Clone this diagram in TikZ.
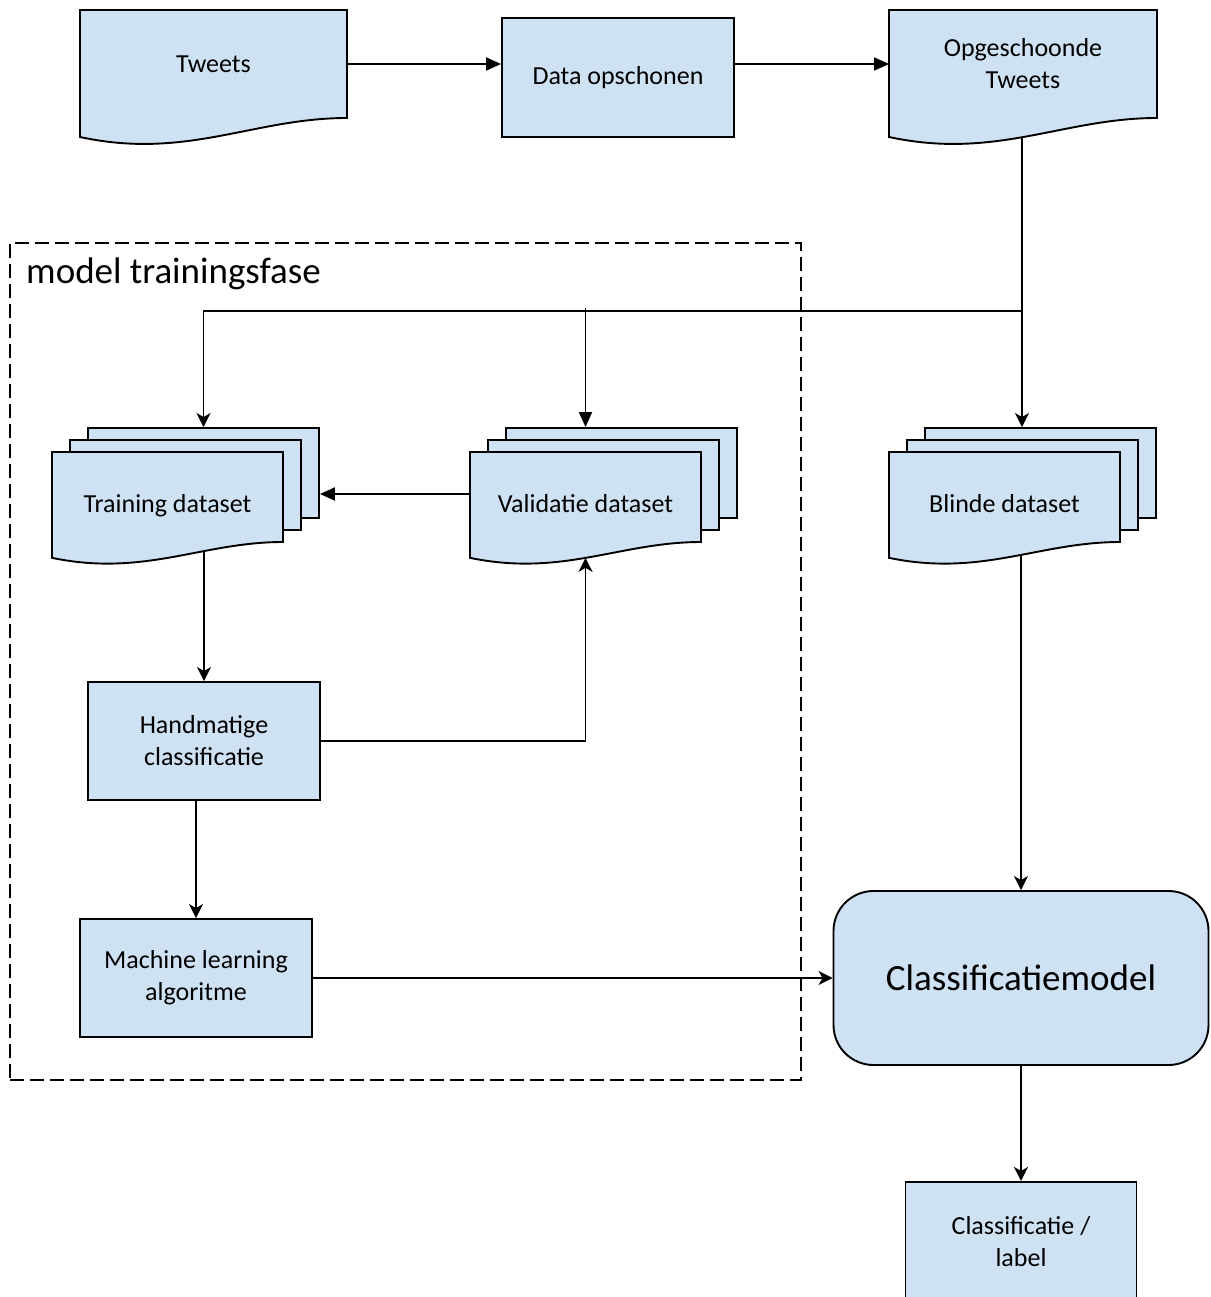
\documentclass[tikz,border=0pt]{standalone}
\usepackage{fontspec}
\setmainfont{Carlito}
\usetikzlibrary{arrows.meta, positioning}

\definecolor{docblue}{RGB}{207,226,243}

\makeatletter
\newdimen\docL \newdimen\docR \newdimen\docT \newdimen\docB \newdimen\docW \newdimen\docH
\def\docwave@corners{%
  \southwest \docL=\pgf@x \docB=\pgf@y
  \northeast \docR=\pgf@x \docT=\pgf@y
  \docW=\docR \advance\docW by -\docL
  \docH=\docT \advance\docH by -\docB
}
% sheet with a wavy lower edge
\pgfdeclareshape{docwave}{%
  \inheritsavedanchors[from=rectangle]
  \inheritanchorborder[from=rectangle]
  \inheritanchor[from=rectangle]{center}
  \inheritanchor[from=rectangle]{north}
  \inheritanchor[from=rectangle]{south}
  \inheritanchor[from=rectangle]{east}
  \inheritanchor[from=rectangle]{west}
  \inheritanchor[from=rectangle]{north east}
  \inheritanchor[from=rectangle]{north west}
  \inheritanchor[from=rectangle]{south east}
  \inheritanchor[from=rectangle]{south west}
  \inheritanchor[from=rectangle]{text}
  \inheritanchor[from=rectangle]{base}
  \inheritanchor[from=rectangle]{mid}
  \anchor{wave}{\docwave@corners
    \pgf@x=\dimexpr(\docL+\docR)/2\relax
    \pgf@y=\dimexpr\docB-0.176\docH\relax}
  \backgroundpath{\docwave@corners
    \pgfpathmoveto{\pgfqpoint{\docL}{\docT}}%
    \pgfpathlineto{\pgfqpoint{\docR}{\docT}}%
    \pgfpathlineto{\pgfqpoint{\docR}{\docB}}%
    \pgfpathcurveto{\pgfqpoint{\dimexpr\docL+0.65\docW\relax}{\docB}}%
      {\pgfqpoint{\dimexpr\docL+0.4\docW\relax}{\dimexpr\docB-0.39\docH\relax}}%
      {\pgfqpoint{\docL}{\dimexpr\docB-0.176\docH\relax}}%
    \pgfpathclose}
}
\makeatother

\pgfdeclarelayer{lines}
\pgfsetlayers{lines,main}

\begin{document}
\begin{tikzpicture}[x=1pt, y=-1pt, every node/.style={font=\fontsize{26}{32}\selectfont}]
\useasboundingbox (0,0) rectangle (1210,1297);

% Styles
\tikzstyle{box} = [draw, line width=1.9pt, fill=docblue, align=center, inner sep=0pt]
\tikzstyle{doc} = [box, shape=docwave, outer sep=0pt]
\tikzstyle{sheet} = [box, minimum width=231, minimum height=90]
\tikzstyle{frontdoc} = [doc, minimum width=231, minimum height=90, text height=35pt, text depth=5pt]
\tikzstyle{arrow} = [line width=1.9pt, -{Stealth[length=14pt,width=14pt,inset=4pt]}]
\tikzstyle{tarrow} = [line width=1.9pt, -{Triangle[length=15pt,width=13pt]}]

% Nodes
\node[doc, minimum width=267, minimum height=108] (tweets) at (213.5,64) {Tweets};
\node[box, minimum width=232, minimum height=119] (clean) at (618,77.5) {Data opschonen};
\node[doc, minimum width=268, minimum height=108] (opg) at (1023,64) {Opgeschoonde\\Tweets};

\node[draw, dash pattern=on 14pt off 6pt, line width=1.5pt, inner sep=0pt,
      minimum width=791, minimum height=837] (fase) at (405.5,661.5) {};
\node[anchor=base west, inner sep=0pt, font=\fontsize{37}{45}\selectfont] (fasetitle) at (26,283) {model trainingsfase};

\node[sheet] (trainc) at (203.5,473) {};
\node[sheet] (trainb) at ([shift={(-18,12)}]trainc) {};
\node[frontdoc] (train) at ([shift={(-36,24)}]trainc) {Training dataset};

\node[sheet] (validc) at (621.5,473) {};
\node[sheet] (validb) at ([shift={(-18,12)}]validc) {};
\node[frontdoc] (valid) at ([shift={(-36,24)}]validc) {Validatie dataset};

\node[sheet] (blindc) at (1040.5,473) {};
\node[sheet] (blindb) at ([shift={(-18,12)}]blindc) {};
\node[frontdoc] (blind) at ([shift={(-36,24)}]blindc) {Blinde dataset};

\node[box, minimum width=232, minimum height=118] (hand) at (204,741) {Handmatige\\classificatie};
\node[box, minimum width=232, minimum height=118] (ml) at (196,978) {Machine learning\\algoritme};

\node[box, rounded corners=40pt, minimum width=375, minimum height=174,
      font=\fontsize{37}{45}\selectfont] (model) at (1021,978) {Classificatiemodel};
\node[box, minimum width=231, minimum height=120, below=115pt of model] (label) {Classificatie /\\label};

\coordinate (split) at (1022,311);

% Arrows
\begin{pgfonlayer}{lines}
\draw[tarrow] (tweets.east) -- (tweets.east -| clean.west);
\draw[tarrow] (tweets.east -| clean.east) -- (tweets.east -| opg.west);
\draw[line width=1.9pt] (split |- opg) -- (split);
\draw[arrow] (split) -| (trainc);
\draw[tarrow] ([yshift=3pt]split -| valid) -- (valid |- validc.north);
\draw[arrow] (split) -- (split |- blindc.north);
\draw[tarrow] ([yshift=3pt]valid.west) -- ([yshift=3pt]valid.west -| trainc.east);
\draw[arrow] (train -| hand) -- (hand);
\draw[arrow] (hand.east) -| (valid.wave);
\draw[arrow] (hand -| ml) -- (ml);
\draw[arrow] (ml) -- (model);
\draw[arrow] (blind -| model) -- (model);
\draw[arrow] (model) -- (label);
\end{pgfonlayer}

\end{tikzpicture}
\end{document}
